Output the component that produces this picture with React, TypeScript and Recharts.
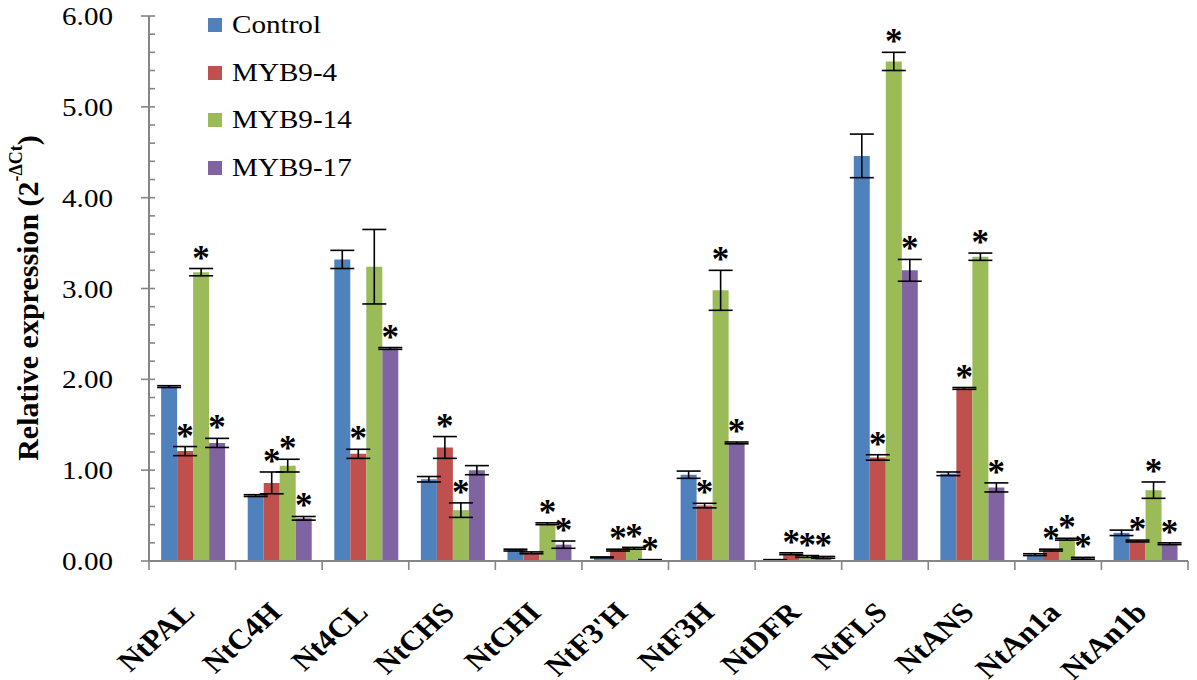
import React from 'react';
import { BarChart, Bar, XAxis, YAxis, ErrorBar, LabelList, Legend } from 'recharts';

const categories = ['NtPAL', 'NtC4H', 'Nt4CL', 'NtCHS', 'NtCHI', "NtF3'H", 'NtF3H', 'NtDFR', 'NtFLS', 'NtANS', 'NtAn1a', 'NtAn1b'];

const seriesNames = ['Control', 'MYB9-4', 'MYB9-14', 'MYB9-17'];
const seriesColors = ['#4F81BD', '#C0504D', '#9BBB59', '#8064A2'];

const controlValues = [1.92, 0.72, 3.32, 0.9, 0.12, 0.04, 0.95, 0.01, 4.46, 0.96, 0.07, 0.31];
const controlErrors = [0.01, 0.01, 0.1, 0.03, 0.01, 0.005, 0.04, 0.005, 0.24, 0.02, 0.01, 0.03];
const controlSig = [0, 0, 0, 0, 0, 0, 0, 0, 0, 0, 0, 0];

const myb4Values = [1.21, 0.86, 1.18, 1.25, 0.09, 0.12, 0.61, 0.08, 1.14, 1.9, 0.12, 0.22];
const myb4Errors = [0.05, 0.12, 0.05, 0.12, 0.01, 0.01, 0.025, 0.01, 0.03, 0.01, 0.01, 0.01];
const myb4Sig = [1, 1, 1, 1, 0, 1, 1, 1, 1, 1, 1, 1];

const myb14Values = [3.18, 1.05, 3.24, 0.56, 0.41, 0.14, 2.98, 0.05, 5.5, 3.35, 0.24, 0.78];
const myb14Errors = [0.04, 0.07, 0.41, 0.08, 0.01, 0.01, 0.22, 0.01, 0.1, 0.04, 0.01, 0.09];
const myb14Sig = [1, 1, 0, 1, 1, 1, 1, 1, 1, 1, 1, 1];

const myb17Values = [1.3, 0.47, 2.34, 1.0, 0.18, 0.01, 1.3, 0.04, 3.2, 0.81, 0.03, 0.19];
const myb17Errors = [0.05, 0.02, 0.01, 0.05, 0.04, 0.005, 0.01, 0.01, 0.12, 0.05, 0.01, 0.01];
const myb17Sig = [1, 1, 1, 0, 1, 1, 1, 1, 1, 1, 1, 1];

const yTicks = [0, 0.2, 0.4, 0.6, 0.8, 1, 1.2, 1.4, 1.6, 1.8, 2, 2.2, 2.4, 2.6, 2.8, 3, 3.2, 3.4, 3.6, 3.8, 4, 4.2, 4.4, 4.6, 4.8, 5, 5.2, 5.4, 5.6, 5.8, 6];
const yMajorTicks = [0, 1, 2, 3, 4, 5, 6];

const seriesValues = [controlValues, myb4Values, myb14Values, myb17Values];
const seriesErrors = [controlErrors, myb4Errors, myb14Errors, myb17Errors];
const seriesSig = [controlSig, myb4Sig, myb14Sig, myb17Sig];

const series = seriesNames.map((name, i) => ({
  name,
  color: seriesColors[i],
  key: `s${i}`,
  errKey: `s${i}Err`,
  sigKey: `s${i}Sig`,
}));

const data = categories.map((name, c) => {
  const row: any = { name };
  series.forEach((s, i) => {
    row[s.key] = seriesValues[i][c];
    row[s.errKey] = seriesErrors[i][c];
    row[s.sigKey] = seriesSig[i][c];
  });
  return row;
});

const FONT = '"Liberation Serif", "Times New Roman", serif';
const AXIS = '#868686';
const S = 1.12;

const YTick = (props: any) => {
  const { x, y, payload } = props;
  const v = payload.value;
  const isMajor = yMajorTicks.includes(v);
  return (
    <g>
      <line x1={isMajor ? x - 8 : x} x2={x + 6} y1={y} y2={y} stroke={AXIS} strokeWidth={1.6} />
      {isMajor && (
        <text
          transform={`translate(${x - 36},${y}) scale(${S},1)`}
          textAnchor="end"
          dy="0.35em"
          fontFamily={FONT}
          fontSize={26}
          fill="#000"
        >
          {Number(v).toFixed(2)}
        </text>
      )}
    </g>
  );
};

const XTick = (props: any) => {
  const { x, y, payload, index, visibleTicksCount, width } = props;
  const band = typeof width === 'number' && visibleTicksCount ? width / visibleTicksCount : 86.6;
  const half = band / 2;
  return (
    <g>
      <line x1={x - half} x2={x - half} y1={y} y2={y + 9} stroke={AXIS} strokeWidth={1.6} />
      {index === visibleTicksCount - 1 && (
        <line x1={x + half} x2={x + half} y1={y} y2={y + 9} stroke={AXIS} strokeWidth={1.6} />
      )}
      <text
        transform={`translate(${x + 4},${y + 53}) scale(${S},1) rotate(-45)`}
        textAnchor="end"
        fontFamily={FONT}
        fontWeight="bold"
        fontSize={28}
        fill="#000"
      >
        {payload.value}
      </text>
    </g>
  );
};

const YLabel = () => (
  <text
    transform="translate(19,290) rotate(-90)"
    textAnchor="middle"
    dominantBaseline="central"
    fontFamily={FONT}
    fontWeight="bold"
    fontSize={30}
    fill="#000"
  >
    Relative expression (2
    <tspan dy={-11} fontSize={18}>-ΔCt</tspan>
    <tspan dy={11}>)</tspan>
  </text>
);

const makeStar = (s: any) => (props: any) => {
  const vb = props.viewBox || props;
  const { index, value } = props;
  if (!value) return null;
  const row = data[index];
  if (!row) return null;
  const x = vb.x ?? props.x;
  const y = vb.y ?? props.y;
  const w = vb.width ?? props.width;
  const h = vb.height ?? props.height;
  const v = row[s.key];
  const e = row[s.errKey];
  const ppu = v > 0 ? h / v : 0;
  const top = y - e * ppu;
  return (
    <text
      x={x + w / 2}
      y={top + 1}
      textAnchor="middle"
      fontFamily={FONT}
      fontWeight="bold"
      fontSize={35}
      fill="#000"
    >
      *
    </text>
  );
};

const renderLegend = () => (
  <div style={{ fontFamily: FONT, fontSize: 26, color: '#000' }}>
    {series.map((s) => (
      <div key={s.key} style={{ display: 'flex', alignItems: 'center', height: 47.7 }}>
        <span style={{ width: 14, height: 14, background: s.color, display: 'inline-block', marginRight: 10 }} />
        <span style={{ display: 'inline-block', transform: `scaleX(${S})`, transformOrigin: 'left center', lineHeight: 1 }}>
          {s.name}
        </span>
      </div>
    ))}
  </div>
);

export default function App() {
  return (
    <div style={{ position: 'relative', width: 1189, height: 672, background: '#fff' }}>
      <BarChart
        width={1189}
        height={672}
        data={data}
        margin={{ top: 8, right: 9, bottom: 0, left: 0 }}
        barCategoryGap="14%"
        barGap={0}
      >
        <XAxis
          dataKey="name"
          height={119}
          interval={0}
          tickSize={0}
          tickMargin={0}
          tick={(p: any) => <XTick {...p} />}
          axisLine={{ stroke: AXIS, strokeWidth: 2 }}
          tickLine={false}
        />
        <YAxis
          type="number"
          width={141}
          domain={[0, 6]}
          ticks={yTicks}
          interval={0}
          tickSize={0}
          tickMargin={0}
          tick={(p: any) => <YTick {...p} />}
          tickLine={false}
          axisLine={{ stroke: AXIS, strokeWidth: 2 }}
          label={{ content: () => <YLabel /> }}
        />
        <Legend
          layout="vertical"
          align="center"
          verticalAlign="middle"
          content={renderLegend}
          wrapperStyle={{ left: 200, top: -7, width: 200 }}
        />
        {series.map((s) => (
          <Bar key={s.key} dataKey={s.key} name={s.name} fill={s.color} isAnimationActive={false}>
            <ErrorBar dataKey={s.errKey} width={12} stroke="#000" strokeWidth={1.6} isAnimationActive={false} />
            <LabelList dataKey={s.sigKey} content={makeStar(s)} />
          </Bar>
        ))}
      </BarChart>
    </div>
  );
}
